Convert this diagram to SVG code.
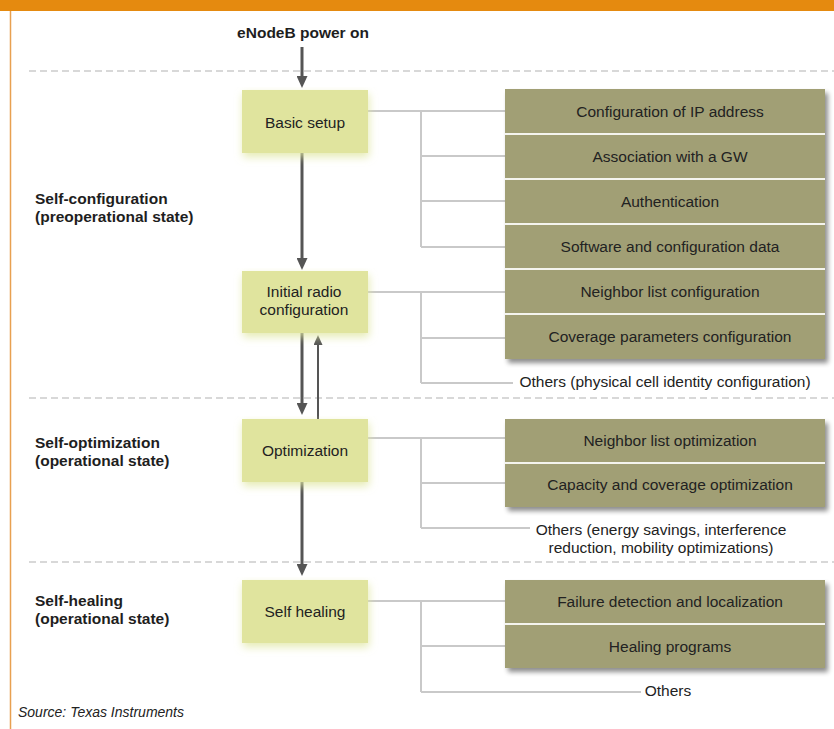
<svg xmlns="http://www.w3.org/2000/svg" width="834" height="729" viewBox="0 0 834 729">
<style>
  text { font-family: "Liberation Sans", Arial, sans-serif; font-size: 15.5px; fill: #222; }
  .b { font-weight: bold; fill: #1e1e1e; }
  .c { text-anchor: middle; }
  .it { font-style: italic; }
  .ybox { fill: #e0e49e; filter: url(#glow); }
  .obox { fill: #a19f74; filter: url(#shadow); }
  .sep { stroke: #f4f4ee; stroke-width: 2; }
  .dash { stroke: #cccccc; stroke-width: 1.6; stroke-dasharray: 7 4; fill: none; }
  .conn { stroke: #c9c9c9; stroke-width: 2; fill: none; }
  .arrow { stroke: #555555; stroke-width: 3; fill: none; marker-end: url(#ah); }
  .arrow-thin { stroke: #555555; stroke-width: 2; fill: none; marker-end: url(#ah2); }
</style>
<defs>
  <marker id="ah" markerUnits="userSpaceOnUse" markerWidth="12" markerHeight="11" refX="4" refY="5.5" orient="auto">
    <path d="M0,0 L12,5.5 L0,11 z" fill="#555555"/>
  </marker>
  <marker id="ah2" markerUnits="userSpaceOnUse" markerWidth="10" markerHeight="9" refX="3" refY="4.5" orient="auto">
    <path d="M0,0 L10,4.5 L0,9 z" fill="#555555"/>
  </marker>
  <filter id="shadow" x="-5%" y="-5%" width="115%" height="120%">
    <feGaussianBlur in="SourceAlpha" stdDeviation="2.5"/>
    <feOffset dx="3" dy="4" result="o"/>
    <feComponentTransfer><feFuncA type="linear" slope="0.45"/></feComponentTransfer>
    <feMerge><feMergeNode/><feMergeNode in="SourceGraphic"/></feMerge>
  </filter>
  <filter id="glow" x="-10%" y="-10%" width="125%" height="140%">
    <feGaussianBlur in="SourceAlpha" stdDeviation="4"/>
    <feOffset dx="1" dy="4" result="o"/>
    <feFlood flood-color="#dfe6a0" flood-opacity="0.8"/>
    <feComposite in2="o" operator="in"/>
    <feMerge><feMergeNode/><feMergeNode in="SourceGraphic"/></feMerge>
  </filter>
</defs>

<!-- frame -->
<rect x="0" y="0" width="834" height="729" fill="#ffffff"/>
<rect x="0" y="0" width="834" height="11" fill="#e58a0f"/>
<line x1="10.5" y1="11" x2="10.5" y2="729" stroke="#e8a050" stroke-width="1.5"/>

<!-- phase separators -->
<g id="separators">
  <line class="dash" x1="29" y1="71" x2="834" y2="71"/>
  <line class="dash" x1="29" y1="398" x2="834" y2="398"/>
  <line class="dash" x1="29" y1="562" x2="834" y2="562"/>
</g>

<!-- phase labels -->
<g id="label-selfconfig">
  <text class="b" x="35" y="204">Self-configuration</text>
  <text class="b" x="35" y="222">(preoperational state)</text>
</g>
<g id="label-selfopt">
  <text class="b" x="35" y="448">Self-optimization</text>
  <text class="b" x="35" y="466">(operational state)</text>
</g>
<g id="label-selfheal">
  <text class="b" x="35" y="606">Self-healing</text>
  <text class="b" x="35" y="624">(operational state)</text>
</g>

<g id="start">
  <text class="b c" x="303" y="38">eNodeB power on</text>
</g>

<!-- connectors -->
<g id="connectors">
  <line class="arrow" x1="302" y1="47" x2="302" y2="80"/>
  <line class="arrow" x1="302" y1="153" x2="302" y2="262"/>
  <line class="arrow" x1="302" y1="333" x2="302" y2="407"/>
  <line class="arrow-thin" x1="318" y1="419" x2="318" y2="342"/>
  <line class="arrow" x1="302" y1="482" x2="302" y2="568"/>

  <path class="conn" d="M368,111 H505 M421,111 V247 M421,156 H505 M421,201 H505 M421,247 H505"/>
  <path class="conn" d="M368,292 H505 M421,292 V383 M421,338 H505 M421,383 H513"/>
  <path class="conn" d="M368,438 H505 M421,438 V528 M421,483 H505 M421,528 H530"/>
  <path class="conn" d="M368,601 H505 M421,601 V692 M421,646 H505 M421,692 H641"/>
</g>

<!-- process nodes -->
<g id="basic-setup">
  <rect class="ybox" x="242" y="90" width="126" height="63"/>
  <text class="c" x="305" y="128">Basic setup</text>
</g>
<g id="initial-radio">
  <rect class="ybox" x="242" y="271" width="126" height="62"/>
  <text class="c" x="304" y="297">Initial radio</text>
  <text class="c" x="304" y="315">configuration</text>
</g>
<g id="optimization">
  <rect class="ybox" x="242" y="419" width="126" height="63"/>
  <text class="c" x="305" y="456">Optimization</text>
</g>
<g id="self-healing">
  <rect class="ybox" x="242" y="580" width="126" height="63"/>
  <text class="c" x="305" y="617">Self healing</text>
</g>

<!-- task lists -->
<g id="config-tasks">
  <rect class="obox" x="505" y="89" width="320" height="270"/>
  <line class="sep" x1="505" y1="134" x2="825" y2="134"/>
  <line class="sep" x1="505" y1="179" x2="825" y2="179"/>
  <line class="sep" x1="505" y1="224" x2="825" y2="224"/>
  <line class="sep" x1="505" y1="269" x2="825" y2="269"/>
  <line class="sep" x1="505" y1="314" x2="825" y2="314"/>
  <text class="c" x="670" y="117">Configuration of IP address</text>
  <text class="c" x="670" y="162">Association with a GW</text>
  <text class="c" x="670" y="207">Authentication</text>
  <text class="c" x="670" y="252">Software and configuration data</text>
  <text class="c" x="670" y="297">Neighbor list configuration</text>
  <text class="c" x="670" y="342">Coverage parameters configuration</text>
</g>
<g id="config-others">
  <text class="c" x="665" y="387">Others (physical cell identity configuration)</text>
</g>

<g id="opt-tasks">
  <rect class="obox" x="505" y="419" width="320" height="88"/>
  <line class="sep" x1="505" y1="463" x2="825" y2="463"/>
  <text class="c" x="670" y="446">Neighbor list optimization</text>
  <text class="c" x="670" y="490">Capacity and coverage optimization</text>
</g>
<g id="opt-others">
  <text class="c" x="661" y="535">Others (energy savings, interference</text>
  <text class="c" x="661" y="553">reduction, mobility optimizations)</text>
</g>

<g id="heal-tasks">
  <rect class="obox" x="505" y="580" width="320" height="88"/>
  <line class="sep" x1="505" y1="624" x2="825" y2="624"/>
  <text class="c" x="670" y="607">Failure detection and localization</text>
  <text class="c" x="670" y="652">Healing programs</text>
</g>
<g id="heal-others">
  <text class="c" x="668" y="696">Others</text>
</g>

<g id="source">
  <text class="it" x="18" y="717" style="font-size:14px">Source: Texas Instruments</text>
</g>
</svg>
